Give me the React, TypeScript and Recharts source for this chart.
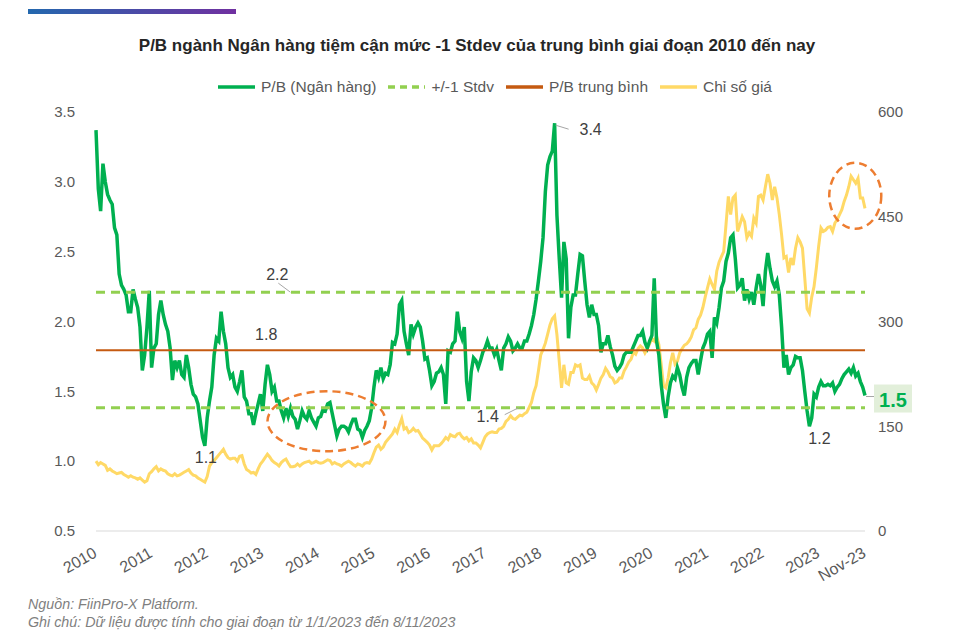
import { LineChart, Line, XAxis, YAxis, ReferenceLine, ReferenceDot } from 'recharts';

// P/B ngành Ngân hàng, mỗi điểm ~ nửa tháng, từ 01/2010 đến 11/2023
const pbValues = [
  3.37, 2.95, 2.79, 3.13, 3.00, 2.91, 2.87, 2.84, 2.67, 2.62,
  2.34, 2.26, 2.23, 2.19, 2.07, 2.07, 2.23, 2.16, 2.10, 1.96,
  1.65, 1.76, 1.96, 2.22, 1.67, 1.81, 1.84, 2.05, 2.15, 2.05,
  1.98, 1.93, 1.81, 1.58, 1.72, 1.67, 1.72, 1.62, 1.60, 1.76,
  1.67, 1.55, 1.48, 1.46, 1.41, 1.29, 1.17, 1.11, 1.31, 1.43,
  1.53, 1.76, 1.88, 1.86, 2.07, 1.93, 1.84, 1.67, 1.60, 1.62,
  1.53, 1.50, 1.57, 1.65, 1.46, 1.43, 1.34, 1.34,
  1.26, 1.34, 1.41, 1.48, 1.36, 1.55, 1.69, 1.62, 1.50, 1.53,
  1.43, 1.43, 1.36, 1.31, 1.38, 1.32, 1.38, 1.32, 1.30, 1.23,
  1.29, 1.36, 1.32, 1.30, 1.36, 1.31, 1.28, 1.25, 1.31, 1.32,
  1.37, 1.36, 1.41, 1.42, 1.34, 1.26, 1.18, 1.23, 1.25, 1.25,
  1.24, 1.21, 1.26, 1.30, 1.30, 1.23, 1.22, 1.17, 1.22, 1.25,
  1.29, 1.38, 1.53, 1.65, 1.60, 1.67, 1.59, 1.63, 1.62, 1.69,
  1.85, 1.84, 1.91, 2.12, 2.15, 1.93, 1.84, 1.76,
  1.98, 1.91, 1.96, 1.99, 1.96, 1.86, 1.73, 1.74, 1.65, 1.54,
  1.57, 1.63, 1.64, 1.67, 1.62, 1.41, 1.79, 1.78, 1.84, 1.86,
  2.07, 1.93, 1.88, 1.96, 1.57, 1.43, 1.64, 1.74, 1.72, 1.67,
  1.72, 1.78, 1.81, 1.86, 1.81, 1.81, 1.76, 1.80, 1.72, 1.65,
  1.81, 1.84, 1.89, 1.86, 1.79, 1.81, 1.84, 1.81, 1.81, 1.86,
  1.86, 1.91, 1.97, 2.05, 2.16, 2.29, 2.43, 2.60, 2.93, 3.12,
  3.18, 3.22, 3.42, 2.76, 2.45, 2.17, 2.57,
  2.45, 1.88, 2.10, 2.19, 2.19, 2.34, 2.48, 2.47, 2.29, 2.12,
  2.03, 2.12, 2.05, 2.05, 1.97, 1.78, 1.84, 1.84, 1.90, 1.82,
  1.76, 1.68, 1.65, 1.67, 1.70, 1.76, 1.78, 1.78, 1.78, 1.82,
  1.86, 1.90, 1.90, 1.93, 1.85, 1.81, 1.86, 1.90, 2.31, 1.86,
  1.76, 1.55, 1.41, 1.31, 1.46, 1.56, 1.61, 1.59, 1.67, 1.62,
  1.53, 1.47, 1.60, 1.67, 1.70, 1.72, 1.72, 1.62, 1.72, 1.81,
  1.85, 1.91, 1.93, 1.74, 2.03, 1.99, 2.10,
  2.24, 2.29, 2.43, 2.49, 2.60, 2.62, 2.45, 2.24, 2.26, 2.31,
  2.15, 2.23, 2.16, 2.21, 2.12, 2.24, 2.34, 2.26, 2.11, 2.36,
  2.49, 2.38, 2.29, 2.25, 2.29, 2.19, 1.96, 1.67, 1.76, 1.62,
  1.67, 1.69, 1.75, 1.74, 1.74, 1.65, 1.50, 1.36, 1.25, 1.31,
  1.48, 1.46, 1.53, 1.57, 1.54, 1.54, 1.55, 1.54, 1.56, 1.50,
  1.53, 1.55, 1.59, 1.62, 1.64, 1.66, 1.63, 1.67, 1.61, 1.63,
  1.57, 1.53, 1.47,
];

// Chỉ số giá (trục phải)
const priceValues = [
  100, 95, 98, 96, 94, 87, 89, 86, 84, 82,
  83, 84, 81, 79, 77, 79, 77, 76, 74, 76,
  73, 70, 72, 82, 85, 89, 92, 86, 89, 87,
  86, 82, 80, 79, 82, 79, 80, 82, 84, 86,
  88, 83, 80, 79, 76, 74, 72, 70, 78, 93,
  98, 101, 105, 109, 113, 117, 110, 105, 103, 104,
  104, 100, 107, 108, 96, 88, 86, 83,
  84, 81, 89, 96, 100, 105, 110, 106, 101, 98,
  96, 93, 98, 101, 103, 97, 92, 92, 93, 96,
  93, 96, 98, 99, 100, 97, 98, 100, 98, 97,
  98, 100, 102, 101, 96, 98, 96, 95, 93, 96,
  98, 100, 98, 95, 93, 96, 95, 93, 97, 98,
  97, 103, 112, 120, 123, 117, 120, 127, 131, 135,
  139, 146, 141, 152, 161, 146, 148, 141,
  143, 147, 143, 144, 139, 133, 130, 127, 123, 116,
  122, 122, 122, 125, 129, 134, 131, 138, 136, 135,
  139, 140, 135, 132, 134, 129, 132, 126, 126, 123,
  119, 127, 135, 139, 141, 142, 141, 141, 146, 147,
  150, 157, 160, 165, 161, 160, 163, 166, 165, 168,
  170, 177, 184, 198, 208, 229, 252, 260, 269, 282,
  295, 304, 308, 281, 243, 205, 238,
  212, 210, 227, 227, 238, 236, 238, 219, 217, 217,
  222, 212, 209, 202, 210, 219, 224, 233, 228, 221,
  219, 212, 214, 219, 219, 229, 235, 242, 246, 256,
  253, 261, 265, 262, 255, 261, 268, 276, 272, 279,
  267, 239, 208, 205, 219, 241, 255, 239, 243, 255,
  261, 266, 268, 272, 278, 288, 291, 303, 309, 320,
  335, 348, 361, 353, 346, 372, 385,
  393, 400, 439, 479, 453, 477, 481, 429, 439, 450,
  443, 420, 427, 422, 448, 441, 479, 481, 474, 493,
  511, 498, 474, 493, 477, 453, 424, 391, 393, 370,
  391, 381, 405, 420, 414, 405, 362, 318, 312, 335,
  350, 377, 408, 434, 429, 431, 435, 436, 429, 441,
  446, 453, 460, 472, 481, 493, 508, 503, 498, 505,
  477, 477, 462,
];

const xTickIdx = [0, 24, 48, 72, 96, 120, 144, 168, 192, 216, 240, 264, 288, 312, 332];
const xTickLabels = ['2010', '2011', '2012', '2013', '2014', '2015', '2016', '2017', '2018', '2019', '2020', '2021', '2022', '2023', 'Nov-23'];
const pbTicks = [0.5, 1, 1.5, 2, 2.5, 3, 3.5];
const priceTicks = [0, 150, 300, 450, 600];

const meanPB = 1.795;
const upperBand = 2.21;
const lowerBand = 1.383;

const legendItems = [
  { label: 'P/B (Ngân hàng)', color: '#00B050', dash: '' },
  { label: '+/-1 Stdv', color: '#92D050', dash: '7 5' },
  { label: 'P/B trung bình', color: '#C55A11', dash: '' },
  { label: 'Chỉ số giá', color: '#FFD966', dash: '' },
];

const data = pbValues.map((pb, i) => ({ i, pb, price: priceValues[i] }));

const FONT = '"Liberation Sans", Arial, sans-serif';
const last = data.length - 1;

const YearTick = (props: any) => {
  const { x, y, payload } = props;
  const label = xTickLabels[xTickIdx.indexOf(payload.value)];
  const tx = x + 2;
  const ty = y + 17;
  return (
    <text x={tx} y={ty} textAnchor="end" fill="#595959" fontSize={16} fontFamily={FONT}
      transform={`rotate(-30 ${tx} ${ty})`}>
      {label}
    </text>
  );
};

// nhãn chú thích, đặt tương đối so với một điểm dữ liệu
const note = (text: string, dx: number, dy: number, leader?: [number, number, number, number]) => (p: any) => (
  <g>
    {leader && (
      <line x1={p.cx + leader[0]} y1={p.cy + leader[1]} x2={p.cx + leader[2]} y2={p.cy + leader[3]}
        stroke="#A6A6A6" strokeWidth={1} />
    )}
    <text x={p.cx + dx} y={p.cy + dy} textAnchor="middle" dominantBaseline="central"
      fill="#404040" fontSize={16} fontFamily={FONT}>{text}</text>
  </g>
);

const ellipse = (rx: number, ry: number) => (p: any) => (
  <ellipse cx={p.cx} cy={p.cy} rx={rx} ry={ry} fill="none" stroke="#ED7D31" strokeWidth={2.5} strokeDasharray="8 5" />
);

const badge = (p: any) => (
  <g>
    <line x1={p.cx + 1} y1={p.cy + 1} x2={p.cx + 10} y2={p.cy + 1} stroke="#A6A6A6" strokeWidth={1} />
    <rect x={p.cx + 9} y={p.cy - 11} width={38} height={28} fill="#E2EFDA" />
    <text x={p.cx + 28} y={p.cy + 4} textAnchor="middle" dominantBaseline="central"
      fill="#00B050" fontSize={20} fontWeight="bold" fontFamily={FONT}>1.5</text>
  </g>
);

export default function App() {
  return (
    <div style={{ position: 'absolute', left: 0, top: 0, width: 958, height: 643, background: '#fff', fontFamily: FONT }}>
      <div style={{ position: 'absolute', left: 28, top: 9, width: 208, height: 5, background: 'linear-gradient(90deg, #2368AE, #7030A0)' }} />
      <div style={{ position: 'absolute', left: 0, top: 36, width: 954, textAlign: 'center', fontSize: 17, fontWeight: 'bold', color: '#262626' }}>
        P/B ngành Ngân hàng tiệm cận mức -1 Stdev của trung bình giai đoạn 2010 đến nay
      </div>
      <div style={{ position: 'absolute', left: 218, top: 78, display: 'flex', alignItems: 'center', fontSize: 15.5, color: '#595959' }}>
        {legendItems.map((it) => (
          <div key={it.label} style={{ display: 'flex', alignItems: 'center', marginRight: 12 }}>
            <svg width={37} height={10} style={{ marginRight: 6 }}>
              <line x1={0} y1={5} x2={37} y2={5} stroke={it.color} strokeWidth={3.5} strokeDasharray={it.dash} />
            </svg>
            <span>{it.label}</span>
          </div>
        ))}
      </div>

      <div style={{ position: 'absolute', left: 0, top: 0 }}>
        <LineChart width={958} height={600} data={data} margin={{ top: 112, right: 33, bottom: 0, left: 36 }}>
          <XAxis dataKey="i" type="number" domain={[0, last]} ticks={xTickIdx} interval={0}
            tick={<YearTick />} tickLine={false} axisLine={{ stroke: '#D9D9D9' }} height={69} />
          <YAxis yAxisId="left" orientation="left" width={60} domain={[0.5, 3.5]} ticks={pbTicks}
            tickFormatter={(v: number) => v.toFixed(1)} axisLine={false} tickLine={false} tickMargin={15}
            tick={{ fill: '#595959', fontSize: 15, fontFamily: FONT }} />
          <YAxis yAxisId="right" orientation="right" width={60} domain={[0, 600]} ticks={priceTicks}
            axisLine={false} tickLine={false} tickMargin={7}
            tick={{ fill: '#595959', fontSize: 15, fontFamily: FONT, textAnchor: 'start' }} />
          <Line yAxisId="right" type="linear" dataKey="price" stroke="#FFD966" strokeWidth={3} dot={false} isAnimationActive={false} />
          <Line yAxisId="left" type="linear" dataKey="pb" stroke="#00B050" strokeWidth={3.5} dot={false} isAnimationActive={false} />
          <ReferenceLine yAxisId="left" y={upperBand} stroke="#92D050" strokeWidth={3} strokeDasharray="9 6" />
          <ReferenceLine yAxisId="left" y={lowerBand} stroke="#92D050" strokeWidth={3} strokeDasharray="9 6" />
          <ReferenceLine yAxisId="left" y={meanPB} stroke="#C55A11" strokeWidth={2} />

          <ReferenceDot yAxisId="left" x={99.5} y={1.286} shape={ellipse(59, 30)} />
          <ReferenceDot yAxisId="right" x={327.8} y={480} shape={ellipse(26, 33)} />

          <ReferenceDot yAxisId="left" x={198} y={3.42} shape={note('3.4', 36, 6, [1, 2, 14, 6])} />
          <ReferenceDot yAxisId="left" x={83.9} y={upperBand} shape={note('2.2', -13, -18, [-12, -9, 0, 0])} />
          <ReferenceDot yAxisId="left" x={73.5} y={meanPB} shape={note('1.8', 0, -16)} />
          <ReferenceDot yAxisId="left" x={182.5} y={lowerBand} shape={note('1.4', -31, 9, [0, 0, -14, 7])} />
          <ReferenceDot yAxisId="left" x={47} y={1.11} shape={note('1.1', 1, 12)} />
          <ReferenceDot yAxisId="left" x={308} y={1.25} shape={note('1.2', 10, 12)} />
          <ReferenceDot yAxisId="left" x={last} y={pbValues[last]} shape={badge} ifOverflow="visible" />
        </LineChart>
      </div>

      <div style={{ position: 'absolute', left: 28, top: 595, fontSize: 14.3, fontStyle: 'italic', color: '#7F7F7F', lineHeight: '18px' }}>
        <div>Nguồn: FiinPro-X Platform.</div>
        <div>Ghi chú: Dữ liệu được tính cho giai đoạn từ 1/1/2023 đến 8/11/2023</div>
      </div>
    </div>
  );
}
